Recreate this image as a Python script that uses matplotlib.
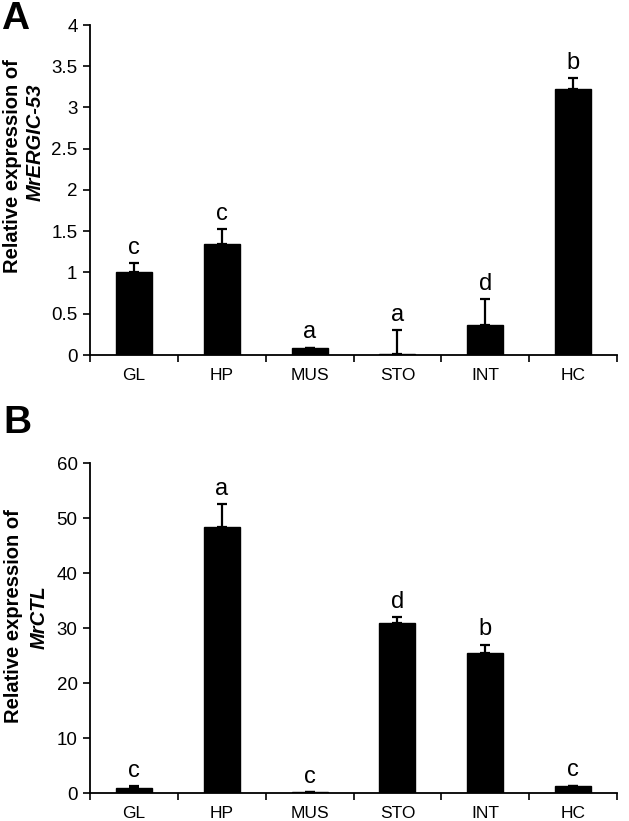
import matplotlib
matplotlib.use("Agg")
import matplotlib.pyplot as plt
import numpy as np

plt.rcParams['font.family'] = ['Liberation Sans', 'DejaVu Sans']

categories = ["GL", "HP", "MUS", "STO", "INT", "HC"]

a_values = [1.0, 1.35, 0.08, 0.01, 0.36, 3.23]
a_errors = [0.11, 0.18, 0.01, 0.29, 0.32, 0.13]
a_letters = ["c", "c", "a", "a", "d", "b"]

b_values = [0.9, 48.3, 0.1, 31.0, 25.5, 1.2]
b_errors = [0.4, 4.2, 0.05, 1.0, 1.5, 0.15]
b_letters = ["c", "a", "c", "d", "b", "c"]

W, H = 629, 821
fig = plt.figure(figsize=(W / 100, H / 100), dpi=100)

def px_axes(left, top, right, bottom):
    return fig.add_axes([left / W, 1 - bottom / H, (right - left) / W, (bottom - top) / H])

def draw(ax, values, errors, letters, ymax, step, ticklabels):
    x = np.arange(len(categories))
    ax.bar(x, values, width=0.41, color='black', edgecolor='black', zorder=2)
    ax.errorbar(x, values, yerr=[np.zeros(len(values)), errors], fmt='none',
                ecolor='black', elinewidth=1.6, capsize=3.5, capthick=1.6, zorder=3)
    for xi, v, e, l in zip(x, values, errors, letters):
        ax.annotate(l, (xi, v + e), xytext=(0, 3), textcoords='offset points',
                    ha='center', va='bottom', fontsize=17)
    ax.set_xlim(-0.5, len(categories) - 0.5)
    ax.set_ylim(0, ymax)
    yt = np.arange(0, ymax + step / 2, step)
    ax.set_yticks(yt)
    ax.set_yticklabels(ticklabels, fontsize=13.5)
    ax.set_xticks(np.arange(-0.5, len(categories), 1.0))
    ax.set_xticklabels([])
    ax.set_xticks(x, minor=True)
    ax.set_xticklabels(categories, minor=True, fontsize=12.5)
    ax.tick_params(axis='x', which='major', direction='out', length=5, width=1.2)
    ax.tick_params(axis='x', which='minor', length=0, pad=9)
    ax.tick_params(axis='y', direction='out', length=5, width=1.2, pad=4)
    for s in ['top', 'right']:
        ax.spines[s].set_visible(False)
    for s in ['left', 'bottom']:
        ax.spines[s].set_linewidth(1.3)

axA = px_axes(90, 25, 617, 355)
draw(axA, a_values, a_errors, a_letters, 4, 0.5,
     ["0", "0.5", "1", "1.5", "2", "2.5", "3", "3.5", "4"])
axB = px_axes(90, 463, 617, 793)
draw(axB, b_values, b_errors, b_letters, 60, 10,
     ["0", "10", "20", "30", "40", "50", "60"])

# panel letters
fig.text(1 / W, 1 - 19 / H, "A", fontsize=28, fontweight='bold', va='center', ha='left')
fig.text(3 / W, 1 - 423 / H, "B", fontsize=28, fontweight='bold', va='center', ha='left')

# y labels
fig.text(13 / W, 1 - 166 / H, "Relative expression of", rotation=90, fontsize=14.5,
         fontweight='bold', ha='center', va='center')
fig.text(35 / W, 1 - 142 / H, "MrERGIC-53", rotation=90, fontsize=14.5,
         fontweight='bold', style='italic', ha='center', va='center')
fig.text(14 / W, 1 - 616 / H, "Relative expression of", rotation=90, fontsize=14.5,
         fontweight='bold', ha='center', va='center')
fig.text(39 / W, 1 - 617 / H, "MrCTL", rotation=90, fontsize=14.5,
         fontweight='bold', style='italic', ha='center', va='center')

fig.savefig("out.png", dpi=100)
